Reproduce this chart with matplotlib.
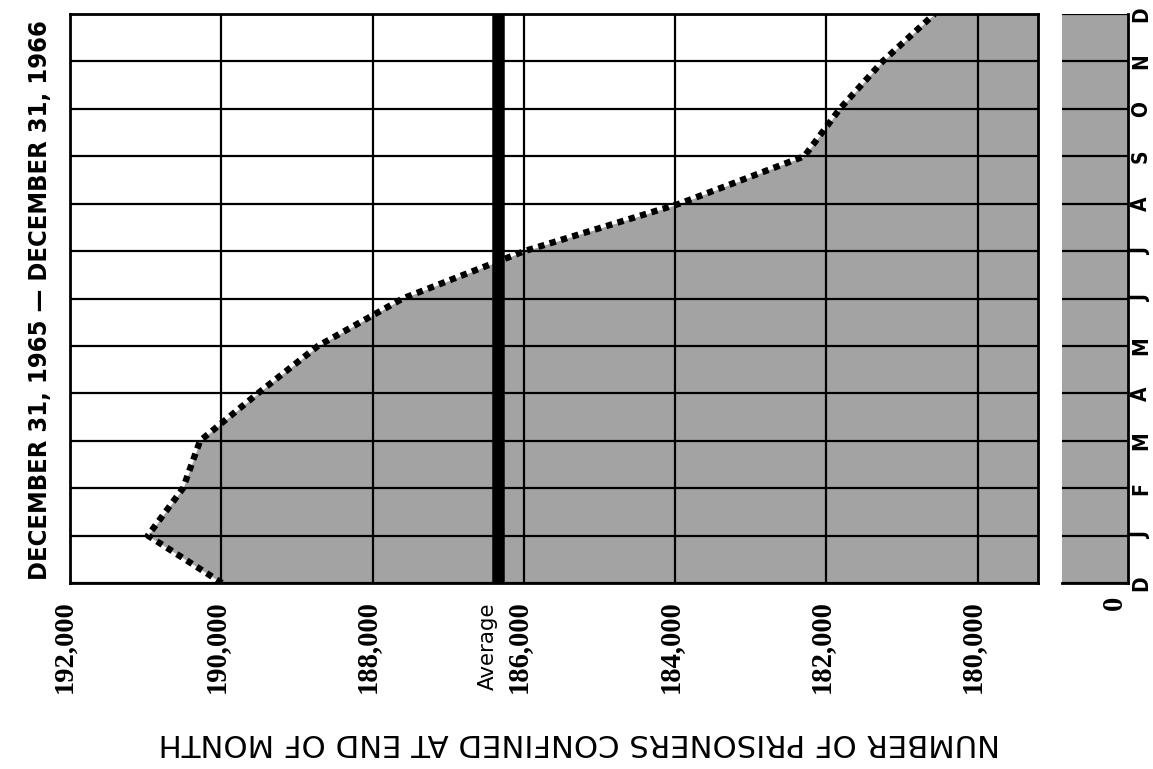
import matplotlib
matplotlib.use("Agg")
import matplotlib.pyplot as plt
import numpy as np

# ---- data ----
months = ["D", "J", "F", "M", "A", "M", "J", "J", "A", "S", "O", "N", "D"]
prisoners = [189990, 190970, 190505, 190280, 189515, 188720, 187600,
             185990, 183940, 182290, 181820, 181255, 180570]
average = 186340
tick_values = [192000, 190000, 188000, 186000, 184000, 182000, 180000]
tick_labels = ["192,000", "190,000", "188,000", "186,000", "184,000", "182,000", "180,000"]
title = "DECEMBER 31, 1965 — DECEMBER 31, 1966"
xlabel = "NUMBER OF PRISONERS CONFINED AT END OF MONTH"

W, H = 1153, 769
fig = plt.figure(figsize=(W / 100, H / 100), dpi=100)
renderer = fig.canvas.get_renderer()

def frac(x0, y0, x1, y1):
    return [x0 / W, 1 - y1 / H, (x1 - x0) / W, (y1 - y0) / H]

def fit(t, target, horizontal):
    bb = t.get_window_extent(renderer)
    cur = bb.width if horizontal else bb.height
    t.set_fontsize(t.get_fontsize() * target / cur)

ax = fig.add_axes(frac(70, 14, 1038, 583))
ax2 = fig.add_axes(frac(1062, 14, 1128, 583))

XMAX, XMIN = 192000, 179200
ax.set_xlim(XMAX, XMIN)
ax.set_ylim(0, 12)
y = np.arange(len(prisoners))

shade = "#a3a3a3"
ax.fill_betweenx(y, prisoners, XMIN, color=shade, zorder=1, lw=0)
for yy in y:
    ax.axhline(yy, color="black", lw=1.6, zorder=2)
for tv in tick_values:
    ax.axvline(tv, color="black", lw=1.6, zorder=2)
ax.plot(prisoners, y, color="black", lw=4.6, linestyle=(0, (1.0, 0.85)),
        dash_capstyle="butt", zorder=3)
ax.axvline(average, color="black", lw=9, zorder=4)
ax.set_xticks([])
ax.set_yticks([])
for s in ax.spines.values():
    s.set_linewidth(2)
    s.set_zorder(5)

# small panel (axis break to zero)
ax2.set_xlim(0, 1)
ax2.set_ylim(0, 12)
ax2.axvspan(0, 1, color=shade, lw=0, zorder=1)
for yy in y:
    ax2.axhline(yy, color="black", lw=1.6, zorder=2)
ax2.set_xticks([])
ax2.set_yticks([])
ax2.spines["left"].set_visible(False)
ax2.spines["top"].set_visible(False)
for s in ["right", "bottom"]:
    ax2.spines[s].set_linewidth(2)

# tick labels (rotated)
lab_font = dict(family=["Liberation Serif", "DejaVu Serif"], weight="bold", size=20)
tick_size = 20
for tv, tl in zip(tick_values, tick_labels):
    xp = ax.transData.transform((tv, 0))[0]
    t = fig.text((xp - 5) / W, 1 - 600 / H, tl, rotation=90, ha="center",
                 va="top", **lab_font)
    fit(t, 92, False)
    tick_size = t.get_fontsize()
xa = ax.transData.transform((average, 0))[0]
t = fig.text((xa - 10) / W, 1 - 602 / H, "Average", rotation=90, ha="center",
             va="top", family="DejaVu Sans", size=14)
fit(t, 88, False)
fig.text(1114 / W, 1 - 596 / H, "0", rotation=90, ha="center", va="top",
         family=["Liberation Serif", "DejaVu Serif"], weight="bold",
         size=tick_size)

# month letters
for yy, m in zip(y, months):
    yp = ax.transData.transform((0, yy))[1]
    fig.text(1141 / W, yp / H, m, rotation=90, ha="center", va="center",
             family="DejaVu Sans", stretch="condensed", weight="bold", size=15)

# title (rotated)
t = fig.text(40 / W, 1 - 300 / H, title, rotation=90, ha="center",
             va="center", family="DejaVu Sans", stretch="condensed",
             weight="bold", size=18)
fit(t, 560, False)

# axis label upside down
t = fig.text(579 / W, 1 - 742 / H, xlabel, rotation=180, ha="center",
             va="center", family="DejaVu Sans", size=18)
fit(t, 845, True)

fig.savefig("out.png", dpi=100)
